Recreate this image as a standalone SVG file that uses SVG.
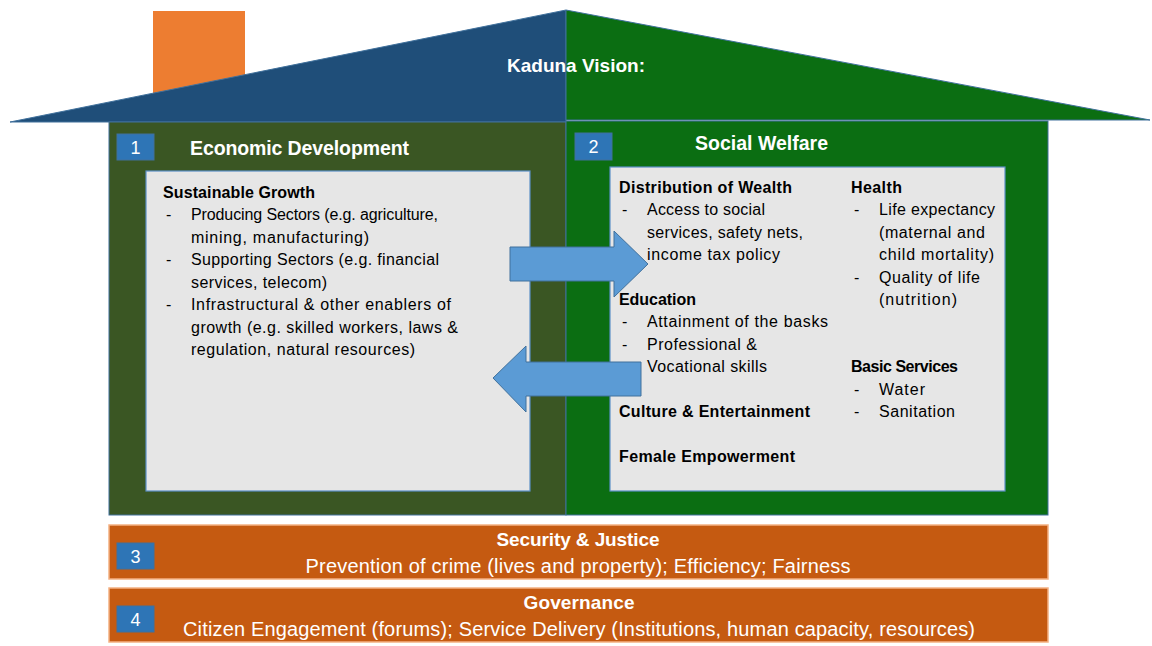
<svg xmlns="http://www.w3.org/2000/svg" width="1152" height="646" viewBox="0 0 1152 646">
<style>
text{font-family:"Liberation Sans",Arial,sans-serif}
.w{fill:#fff}
.b{font-weight:bold}
.t{fill:#000;font-size:16px}
.h{fill:#000;font-size:16px;font-weight:bold}
.badge{fill:#2E75B6;stroke:#41719C;stroke-width:1}
.num{fill:#fff;font-size:18px;text-anchor:middle}
.inner{fill:#E6E6E6;stroke:#5B8FC7;stroke-width:1.2}
.bar{fill:#C55A11;stroke:#F4B183;stroke-width:1.5}
.arrow{fill:#5B9BD5;stroke:#41719C;stroke-width:1}
</style>
<rect width="1152" height="646" fill="#fff"/>
<g id="roof">
<rect x="153" y="11" width="92" height="90" fill="#ED7D31"/>
<polygon points="10,122 566,10 566,122" fill="#1F4E79" stroke="#41719C" stroke-width="1"/>
<polygon points="566,10 1150,120 566,120" fill="#0B6E12" stroke="#41719C" stroke-width="1"/>
<text x="576" y="72" class="w b" font-size="18.5" text-anchor="middle" textLength="138" lengthAdjust="spacingAndGlyphs">Kaduna Vision:</text>
</g>
<g id="economic">
<rect x="109" y="122" width="457" height="393" fill="#3A5623" stroke="#41719C" stroke-width="1"/>
<rect x="117" y="134" width="37" height="26" class="badge"/>
<text x="135.5" y="154" class="num">1</text>
<text x="190" y="155" class="w b" font-size="19.5" textLength="219">Economic Development</text>
<rect x="146" y="171" width="384" height="320" class="inner"/>
<text x="163" y="198" class="h" textLength="152">Sustainable Growth</text>
<g class="t">
<text x="166" y="220">-</text><text x="191" y="220" textLength="247">Producing Sectors (e.g. agriculture,</text>
<text x="191" y="243" textLength="178">mining, manufacturing)</text>
<text x="166" y="265">-</text><text x="191" y="265" textLength="248">Supporting Sectors (e.g. financial</text>
<text x="191" y="288" textLength="136">services, telecom)</text>
<text x="166" y="310">-</text><text x="191" y="310" textLength="260">Infrastructural &amp; other enablers of</text>
<text x="191" y="333" textLength="267">growth (e.g. skilled workers, laws &amp;</text>
<text x="191" y="355" textLength="224">regulation, natural resources)</text>
</g>
</g>
<g id="social">
<rect x="566" y="121" width="482" height="394" fill="#0B6E12" stroke="#41719C" stroke-width="1"/>
<rect x="575" y="133" width="37" height="27" class="badge"/>
<text x="593.5" y="153" class="num">2</text>
<text x="695" y="150" class="w b" font-size="19.5" textLength="133">Social Welfare</text>
<rect x="610" y="167" width="395" height="324" class="inner"/>
<text x="619" y="193" class="h" textLength="173">Distribution of Wealth</text>
<g class="t">
<text x="622" y="215">-</text><text x="647" y="215" textLength="118">Access to social</text>
<text x="647" y="238" textLength="156">services, safety nets,</text>
<text x="647" y="260" textLength="133">income tax policy</text>
</g>
<text x="619" y="305" class="h" textLength="77">Education</text>
<g class="t">
<text x="622" y="327">-</text><text x="647" y="327" textLength="181">Attainment of the basks</text>
<text x="622" y="350">-</text><text x="647" y="350" textLength="110">Professional &amp;</text>
<text x="647" y="372" textLength="120">Vocational skills</text>
</g>
<text x="619" y="417" class="h" textLength="191">Culture &amp; Entertainment</text>
<text x="619" y="462" class="h" textLength="176">Female Empowerment</text>
<text x="851" y="193" class="h" textLength="51">Health</text>
<g class="t">
<text x="854" y="215">-</text><text x="879" y="215" textLength="116">Life expectancy</text>
<text x="879" y="238" textLength="106">(maternal and</text>
<text x="879" y="260" textLength="115">child mortality)</text>
<text x="854" y="283">-</text><text x="879" y="283" textLength="101">Quality of life</text>
<text x="879" y="305" textLength="78">(nutrition)</text>
</g>
<text x="851" y="372" class="h" textLength="107">Basic Services</text>
<g class="t">
<text x="854" y="395">-</text><text x="879" y="395" textLength="46">Water</text>
<text x="854" y="417">-</text><text x="879" y="417" textLength="76">Sanitation</text>
</g>
</g>
<g id="security">
<rect x="109" y="525" width="939" height="54" class="bar"/>
<rect x="117" y="543" width="37" height="26" class="badge"/>
<text x="135.5" y="563" class="num">3</text>
<text x="578" y="546" class="w b" font-size="19" text-anchor="middle" textLength="163">Security &amp; Justice</text>
<text x="578" y="573" class="w" font-size="20" text-anchor="middle" textLength="545">Prevention of crime (lives and property); Efficiency; Fairness</text>
</g>
<g id="governance">
<rect x="109" y="588" width="939" height="54" class="bar"/>
<rect x="117" y="606" width="37" height="26" class="badge"/>
<text x="135.5" y="626" class="num">4</text>
<text x="579" y="609" class="w b" font-size="19" text-anchor="middle" textLength="111">Governance</text>
<text x="579" y="636" class="w" font-size="20" text-anchor="middle" textLength="792">Citizen Engagement (forums); Service Delivery (Institutions, human capacity, resources)</text>
</g>
<g id="connectors">
<polygon class="arrow" points="510,247 614,247 614,231 648,264 614,297 614,281 510,281"/>
<polygon class="arrow" points="641,362 526,362 526,346 493,378 526,412 526,396 641,396"/>
</g>
</svg>
